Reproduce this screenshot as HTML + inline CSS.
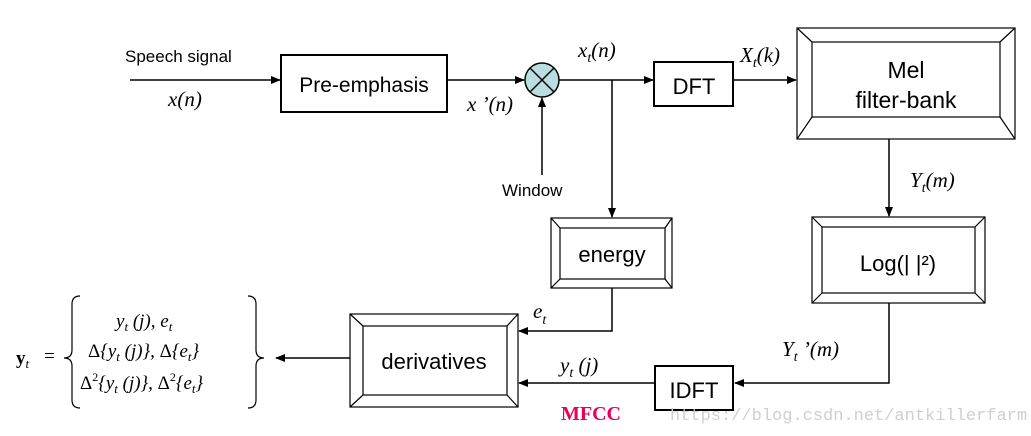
<!DOCTYPE html>
<html><head><meta charset="utf-8"><style>
html,body{margin:0;padding:0;background:#fff;}
svg{display:block;}
.s{font-family:"Liberation Sans",sans-serif;}
.m{font-family:"Liberation Serif",serif;font-style:italic;}
</style></head><body>
<svg width="1031" height="436" viewBox="0 0 1031 436" xmlns="http://www.w3.org/2000/svg">
<defs><marker id="a" markerWidth="10" markerHeight="8" refX="9" refY="4" orient="auto" markerUnits="userSpaceOnUse"><path d="M0,0L10,4L0,8z" fill="#000"/></marker></defs>
<g stroke="#000" stroke-width="1.5" fill="none">
<!-- lines -->
<line x1="130" y1="80" x2="280" y2="80" marker-end="url(#a)"/>
<line x1="447" y1="80" x2="524" y2="80" marker-end="url(#a)"/>
<line x1="559" y1="80" x2="653" y2="80" marker-end="url(#a)"/>
<line x1="612" y1="80" x2="612" y2="217" marker-end="url(#a)"/>
<line x1="542" y1="175" x2="542" y2="98" marker-end="url(#a)"/>
<line x1="733" y1="80" x2="796" y2="80" marker-end="url(#a)"/>
<line x1="889" y1="139" x2="889" y2="216" marker-end="url(#a)"/>
<polyline points="889,303 889,383 735,383" marker-end="url(#a)"/>
<line x1="654" y1="383" x2="519" y2="383" marker-end="url(#a)"/>
<polyline points="612,288 612,331 519,331" marker-end="url(#a)"/>
<line x1="350" y1="358" x2="276" y2="358" marker-end="url(#a)"/>
<!-- plain boxes -->
<rect x="281" y="55" width="166" height="57" stroke-width="2"/>
<rect x="654" y="62" width="79" height="44" stroke-width="2"/>
<rect x="655" y="366" width="78" height="44" stroke-width="2"/>
</g>
<circle cx="542" cy="80" r="17" fill="#b9dde0" stroke="#000" stroke-width="1.5"/>
<g stroke="#000" stroke-width="1.5"><line x1="530" y1="68" x2="554" y2="92"/><line x1="554" y1="68" x2="530" y2="92"/></g>
<!-- bevel boxes -->
<g stroke="#000" stroke-width="1.2" fill="none">
<rect x="797" y="28" width="218" height="111"/><rect x="812" y="42" width="188" height="75"/>
<path d="M797,28L812,42M1015,28L1000,42M797,139L812,117M1015,139L1000,117"/>
<rect x="812" y="217" width="173" height="86"/><rect x="822" y="227" width="153" height="66"/>
<path d="M812,217L822,227M985,217L975,227M812,303L822,293M985,303L975,293"/>
<rect x="551" y="218" width="121" height="70"/><rect x="560" y="228" width="105" height="51"/>
<path d="M551,218L560,228M672,218L665,228M551,288L560,279M672,288L665,279"/>
<rect x="350" y="314" width="168" height="93"/><rect x="363" y="326" width="144" height="69"/>
<path d="M350,314L363,326M518,314L507,326M350,407L363,395M518,407L507,395"/>
</g>
<!-- text -->
<g class="s" fill="#000">
<text x="125" y="62" font-size="17">Speech signal</text>
<text x="364" y="92" font-size="21" text-anchor="middle">Pre-emphasis</text>
<text x="694" y="94" font-size="22" text-anchor="middle">DFT</text>
<text x="906" y="78" font-size="23" text-anchor="middle">Mel</text>
<text x="906" y="108" font-size="23" text-anchor="middle">filter-bank</text>
<text x="898" y="271" font-size="22" text-anchor="middle">Log(| |²)</text>
<text x="612" y="262" font-size="22" text-anchor="middle">energy</text>
<text x="434" y="369" font-size="22" text-anchor="middle">derivatives</text>
<text x="694" y="398" font-size="22" text-anchor="middle">IDFT</text>
<text x="502" y="196" font-size="17">Window</text>
</g>
<g class="m" fill="#000" font-size="21">
<text x="168" y="106">x(n)</text>
<text x="467" y="111">x ’(n)</text>
<text x="578" y="57">x<tspan font-size="14" dy="5">t</tspan><tspan dy="-5">(n)</tspan></text>
<text x="740" y="62">X<tspan font-size="14" dy="5">t</tspan><tspan dy="-5">(k)</tspan></text>
<text x="910" y="187">Y<tspan font-size="14" dy="5">t</tspan><tspan dy="-5">(m)</tspan></text>
<text x="782" y="356">Y<tspan font-size="14" dy="5">t</tspan><tspan dy="-5"> ’(m)</tspan></text>
<text x="533" y="318">e<tspan font-size="14" dy="6">t</tspan></text>
<text x="560" y="372">y<tspan font-size="14" dy="5">t</tspan><tspan dy="-5"> (j)</tspan></text>
</g>
<text x="561" y="420" font-family="Liberation Serif,serif" font-weight="bold" font-size="20" fill="#e8005a">MFCC</text>
<text x="670" y="420" font-family="Liberation Mono,monospace" font-size="17" fill="#cfcfcf">https://blog.csdn.net/antkillerfarm</text>
<!-- formula -->
<g font-family="Liberation Serif,serif" fill="#000" font-size="19">
<text x="16" y="364" font-weight="bold">y<tspan font-size="13" dy="4" font-style="italic" font-weight="normal">t</tspan></text>
<text x="44" y="362">=</text>
<text x="116" y="327" font-style="italic">y<tspan font-size="13" dy="4">t</tspan><tspan dy="-4">  (j), e</tspan><tspan font-size="13" dy="4">t</tspan></text>
<text x="88" y="357">Δ<tspan font-style="italic">{y<tspan font-size="13" dy="4">t</tspan><tspan dy="-4">  (j)}, </tspan></tspan>Δ<tspan font-style="italic">{e<tspan font-size="13" dy="4">t</tspan><tspan dy="-4">}</tspan></tspan></text>
<text x="80" y="389">Δ<tspan font-size="12" dy="-8">2</tspan><tspan dy="8" font-style="italic">{y</tspan><tspan font-size="13" dy="4" font-style="italic">t</tspan><tspan dy="-4" font-style="italic">  (j)}, </tspan>Δ<tspan font-size="12" dy="-8">2</tspan><tspan dy="8" font-style="italic">{e</tspan><tspan font-size="13" dy="4" font-style="italic">t</tspan><tspan dy="-4" font-style="italic">}</tspan></text>
</g>
<g stroke="#000" stroke-width="1.2" fill="none">
<path d="M80,296 Q72,296 72,304 L72,350 Q72,358 64,358 Q72,358 72,366 L72,400 Q72,408 80,408"/>
<path d="M248,296 Q256,296 256,304 L256,350 Q256,358 264,358 Q256,358 256,366 L256,400 Q256,408 248,408"/>
</g>
</svg>
</body></html>
